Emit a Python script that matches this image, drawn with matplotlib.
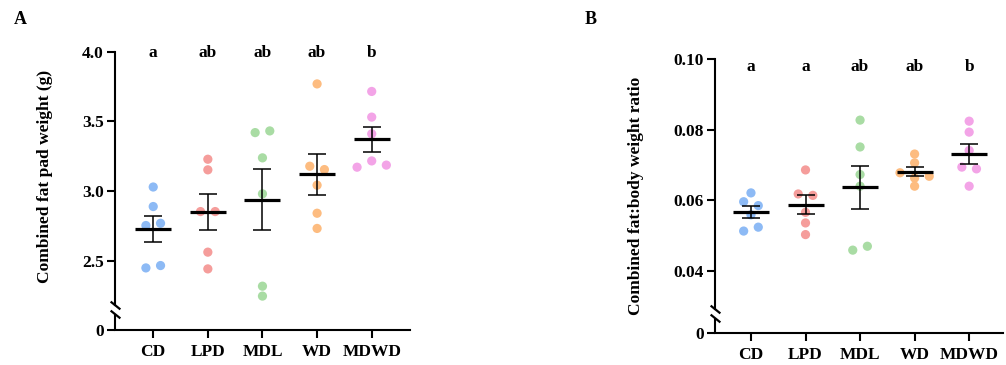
import numpy as np
import matplotlib.pyplot as plt
from matplotlib import transforms

plt.rcParams['font.family'] = ['Liberation Serif', 'DejaVu Serif']
plt.rcParams['font.weight'] = 'bold'

groups = ["CD", "LPD", "MDL", "WD", "MDWD"]
colors = ["#8DBAF5", "#F59D9B", "#A9DCA4", "#FDBC80", "#F3A4E7"]

# panel A: combined fat pad weight (g)
fat_pad_g = [
    [3.03, 2.89, 2.754, 2.77, 2.45, 2.467],
    [3.229, 3.153, 2.854, 2.854, 2.563, 2.443],
    [3.42, 3.432, 3.239, 2.981, 2.319, 2.248],
    [3.769, 3.179, 3.155, 3.043, 2.842, 2.733],
    [3.715, 3.531, 3.411, 3.217, 3.172, 3.187],
]
letters_a = ["a", "ab", "ab", "ab", "b"]

# panel B: combined fat : body weight ratio
fat_ratio = [
    [0.0621, 0.0596, 0.0585, 0.0559, 0.0524, 0.0513],
    [0.0686, 0.0618, 0.0614, 0.0566, 0.0536, 0.0503],
    [0.0827, 0.0751, 0.0673, 0.0640, 0.0470, 0.0459],
    [0.0731, 0.0706, 0.0678, 0.0663, 0.0668, 0.0640],
    [0.0824, 0.0793, 0.0741, 0.0694, 0.0689, 0.0640],
]
letters_b = ["a", "a", "ab", "ab", "b"]

# beeswarm side of each dot (layout only)
side_a = [[0, 0, -1, 1, -1, 1], [0, 0, -1, 1, 0, 0], [-1, 1, 0, 0, 0, 0],
          [0, -1, 1, 0, 0, 0], [0, 0, 0, 0, -2, 2]]
side_b = [[0, -1, 1, 0, 1, -1], [0, -1, 1, 0, 0, 0], [0, 0, 0, 0, 1, -1],
          [0, 0, -2, 0, 2, 0], [0, 0, 0, -1, 1, 0]]


def broken_funcs(U, h):
    # values below U squeezed into h, linear above
    def fwd(y):
        y = np.asarray(y, dtype=float)
        return np.where(y < U, y * h / U, h + (y - U))

    def inv(f):
        f = np.asarray(f, dtype=float)
        return np.where(f < h, f * U / h, U + (f - h))
    return fwd, inv


def draw_panel(ax, data, sides, letters, U, h, top, yticks, yticklabels,
               letter_y, ylabel, xlim):
    fwd, inv = broken_funcs(U, h)
    ax.set_yscale('function', functions=(fwd, inv))
    ax.set_ylim(0, top)
    ax.set_xlim(*xlim)

    for i, vals in enumerate(data):
        vals = np.array(vals)
        xs = i + 0.134 * np.array(sides[i])
        ax.scatter(xs, vals, s=44, color=colors[i], edgecolors='none', zorder=2, clip_on=False)
        m = vals.mean()
        sem = vals.std(ddof=1) / np.sqrt(len(vals))
        ax.hlines(m, i - 0.33, i + 0.33, color='black', lw=2.3, zorder=3)
        ax.errorbar(i, m, yerr=sem, color='black', lw=1.1, capsize=6.5,
                    capthick=1.1, zorder=3)
        ax.text(i, letter_y, letters[i], ha='center', va='center', fontsize=12.5,
                fontweight='bold', clip_on=False)

    ax.set_xticks(range(len(groups)))
    ax.set_xticklabels(groups, fontsize=12.5, fontweight='bold')
    ax.set_yticks(yticks)
    ax.set_yticklabels(yticklabels, fontsize=12.5, fontweight='bold')
    ax.tick_params(axis='both', width=1.5, length=6, pad=2)
    ax.tick_params(axis='x', pad=4)
    ax.set_ylabel(ylabel, fontsize=12.5, fontweight='bold')

    for s in ['top', 'right']:
        ax.spines[s].set_visible(False)
    for s in ['left', 'bottom']:
        ax.spines[s].set_linewidth(1.5)

    # break in the y axis
    px_per_f = ax.bbox.height / float(fwd(top))
    gap = 4.5 / px_per_f
    upper = float(inv(h + gap))
    lower = float(inv(h - gap))
    ax.spines['left'].set_bounds(upper, top)
    trans = transforms.blended_transform_factory(ax.transAxes, ax.transData)
    ax.plot([0, 0], [0, lower], color='black', lw=1.5, transform=trans,
            clip_on=False, solid_capstyle='butt')
    slash = [(-1, 0.8), (1, -0.8)]
    for yb in [upper, lower]:
        ax.plot(0, yb, marker=slash, markersize=7, mew=1.6, color='black',
                transform=trans, clip_on=False)


fig = plt.figure(figsize=(10.06, 3.65), dpi=100)
ax_a = fig.add_axes([0.1143, 0.0959, 0.2932, 0.7625])
ax_b = fig.add_axes([0.7107, 0.0877, 0.2863, 0.7507])

draw_panel(ax_a, fat_pad_g, side_a, letters_a, U=2.1485, h=0.1435, top=4.0,
           yticks=[0, 2.5, 3.0, 3.5, 4.0], yticklabels=['0', '2.5', '3.0', '3.5', '4.0'],
           letter_y=3.99, ylabel='Combined fat pad weight (g)', xlim=(-0.7, 4.7))
draw_panel(ax_b, fat_ratio, side_b, letters_b, U=0.02797, h=0.00552, top=0.10,
           yticks=[0, 0.04, 0.06, 0.08, 0.10], yticklabels=['0', '0.04', '0.06', '0.08', '0.10'],
           letter_y=0.0977, ylabel='Combined fat:body weight ratio', xlim=(-0.66, 4.62))

ax_a.yaxis.set_label_coords(-(115 - 45) / ax_a.bbox.width, 0.55)
ax_b.yaxis.set_label_coords(-(715 - 636) / ax_b.bbox.width, 0.50)
ax_a.yaxis.label.set_va('center')
ax_b.yaxis.label.set_va('center')

fig.text(20 / 1006, 1 - 20 / 365, 'A', fontsize=13, fontweight='bold', ha='center', va='center')
fig.text(591 / 1006, 1 - 19 / 365, 'B', fontsize=13, fontweight='bold', ha='center', va='center')

fig.savefig('out.png', dpi=100)
